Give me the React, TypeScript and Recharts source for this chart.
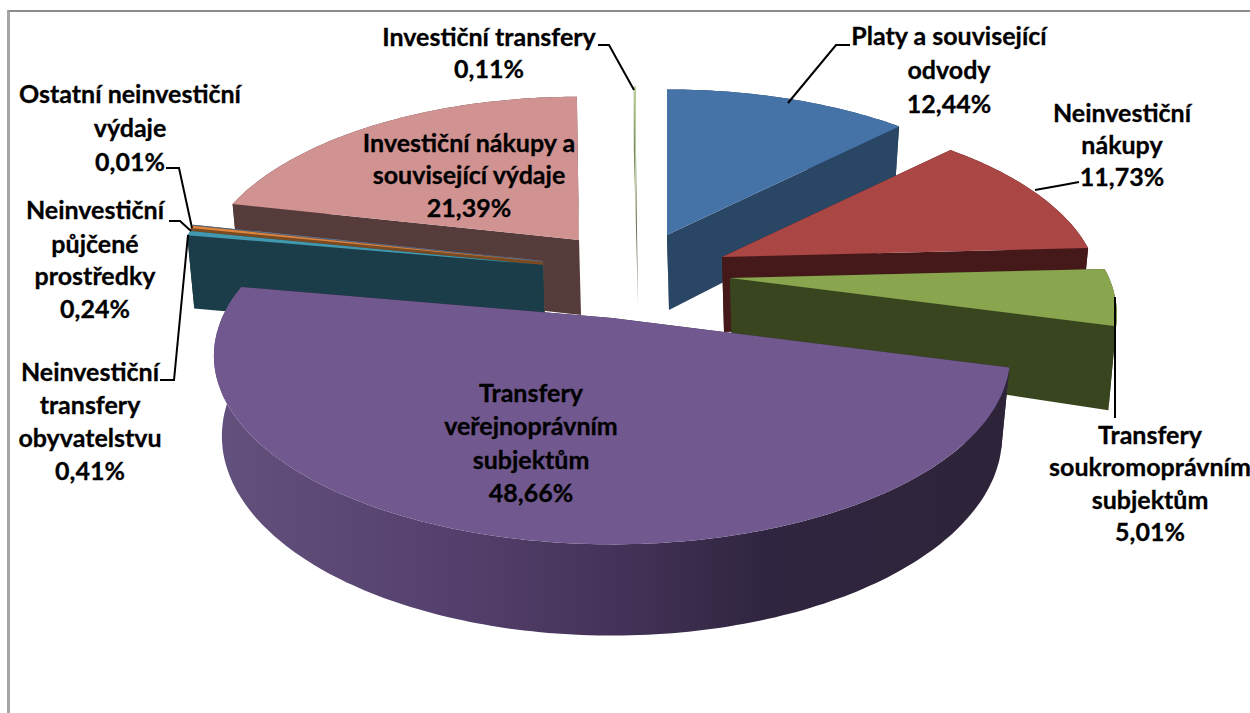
import { PieChart, Pie } from "recharts";

const sliceNames = [
  "Platy a související odvody",
  "Neinvestiční nákupy",
  "Transfery soukromoprávním subjektům",
  "Transfery veřejnoprávním subjektům",
  "Neinvestiční transfery obyvatelstvu",
  "Neinvestiční půjčené prostředky",
  "Ostatní neinvestiční výdaje",
  "Investiční nákupy a související výdaje",
  "Investiční transfery",
];
const sliceValues = [12.44, 11.73, 5.01, 48.66, 0.41, 0.24, 0.01, 21.39, 0.11];
const percentLabels = ["12,44%", "11,73%", "5,01%", "48,66%", "0,41%", "0,24%", "0,01%", "21,39%", "0,11%"];

const topColors = ["#4572a7", "#aa4643", "#89a54e", "#71588f", "#4198af", "#db843d", "#93a9cf", "#d19392", "#b9cd96"];
const wallColors = ["#2a4665", "#45191a", "#39451f", "url(#purpleRim)", "#1b3d49", "#7a4a22", "#55627a", "#563b3b", "#6a7656"];

// how far each slice is pulled out of the pie, how much it shrinks with distance, wall height factor
const explode: [number, number, number, number][] = [
  [55, -83, 0.96, 1],
  [110, -61, 0.945, 1],
  [118, -40, 0.967, 1.08],
  [0, 0, 0.995, 1.04],
  [-69, -53, 0.955, 1],
  [-69, -56, 0.955, 1],
  [-69, -57, 0.955, 1],
  [-33, -78, 0.945, 1],
  [24, -88, 0.945, 1],
];

// back to front
const paintOrder = [8, 0, 1, 2, 7, 6, 5, 4, 3];

const labelLayout = [
  { x: 949, ys: [39, 73, 107], lines: ["Platy a související", "odvody"], leader: "850,45 836,45 788,103" },
  { x: 1122, ys: [116, 148, 180], lines: ["Neinvestiční", "nákupy"], leader: "1079,182 1063,185 1035,190" },
  { x: 1150, ys: [438, 470, 503, 535], lines: ["Transfery", "soukromoprávním", "subjektům"], leader: "1115,297 1115,418" },
  { x: 531, ys: [396, 429, 463, 496], lines: ["Transfery", "veřejnoprávním", "subjektům"] },
  { x: 90, ys: [375, 408, 441, 474], lines: ["Neinvestiční", "transfery", "obyvatelstvu"], leader: "160,380 174,380 188,235" },
  { x: 95, ys: [213, 247, 279, 312], lines: ["Neinvestiční", "půjčené", "prostředky"], leader: "169,221 180,221 191,231" },
  { x: 130, ys: [97, 131, 165], lines: ["Ostatní neinvestiční", "výdaje"], leader: "166,168 179,168 192,228" },
  { x: 469, ys: [146, 178, 211], lines: ["Investiční nákupy a", "související výdaje"] },
  { x: 489, ys: [40, 72], lines: ["Investiční transfery"], leader: "598,45 609,45 634,90" },
];

const chartData = sliceNames.map((name, i) => ({ name, value: sliceValues[i], idx: i }));

const CX = 612;
const CY = 318;
const RX = 392;
const RY = 182;
const TILT = 0.2;
const DEPTH = 75;

function toPath(pts: number[][]) {
  return "M" + pts.map((p) => p[0].toFixed(1) + "," + p[1].toFixed(1)).join("L") + "Z";
}

function SliceShape(props: any) {
  const { startAngle, endAngle, payload, layer } = props;
  const i = payload?.idx ?? props.idx;
  if (i !== layer) return null;
  const [dx, dy, s, h] = explode[i];
  const ox = CX + dx;
  const oy = CY + dy;
  const a0 = 90 - startAngle;
  const a1 = 90 - endAngle;
  const steps = Math.max(2, Math.ceil(Math.abs(a1 - a0)));
  const top: number[][] = [];
  const low: number[][] = [];
  for (let k = 0; k <= steps; k++) {
    const a = ((a0 + ((a1 - a0) * k) / steps) * Math.PI) / 180;
    const u = Math.sin(a);
    const v = Math.cos(a);
    const p = 1 / (1 + TILT * v);
    const x = ox + RX * s * u * p;
    const y = oy - RY * s * v * p;
    top.push([x, y]);
    low.push([ox + (x - ox) * 0.98, y + DEPTH * h * Math.pow(p, 0.7)]);
  }
  const apexLow = [ox + 2, oy + DEPTH];
  const wall = wallColors[i];
  const solid = i === 3 ? "#2e2439" : wall;
  return (
    <g>
      <path d={toPath([[ox, oy], apexLow, low[0], top[0]])} fill={solid} />
      <path d={toPath([[ox, oy], apexLow, low[steps], top[steps]])} fill={solid} />
      <path d={toPath([...top, ...low.slice().reverse()])} fill={wall} />
      <path d={toPath([[ox, oy], ...top])} fill={topColors[i]} />
    </g>
  );
}

function SliceLabel(props: any) {
  const i = props.payload?.idx ?? props.index;
  const l = labelLayout[i];
  const rows = [...l.lines, percentLabels[i]];
  return (
    <g>
      {l.leader && <polyline points={l.leader} fill="none" stroke="#000" strokeWidth={2} />}
      {rows.map((t, k) => (
        <text
          key={k}
          x={l.x}
          y={l.ys[k]}
          textAnchor="middle"
          dominantBaseline="middle"
          fontFamily="Lato, sans-serif"
          fontWeight={700}
          fontSize={25}
          stroke="#000"
          strokeWidth={0.3}
          fill="#000"
        >
          {t}
        </text>
      ))}
    </g>
  );
}

export default function App() {
  return (
    <div style={{ position: "fixed", left: 0, top: 0, width: 1250, height: 713, background: "#fff", overflow: "hidden" }}>
      <div style={{ position: "absolute", left: 7, top: 10, width: 1300, height: 800, borderLeft: "3px solid #a6a6a6", borderTop: "2px solid #8c8c8c", boxSizing: "border-box" }} />
      <div style={{ position: "absolute", left: 0, top: 0 }}>
        <PieChart width={1250} height={713} margin={{ top: 0, right: 0, bottom: 0, left: 0 }}>
          <defs>
            <linearGradient id="purpleRim" gradientUnits="userSpaceOnUse" x1={215} y1={0} x2={1005} y2={0}>
              <stop offset="0" stopColor="#63517d" />
              <stop offset="0.3" stopColor="#55406d" />
              <stop offset="0.52" stopColor="#433257" />
              <stop offset="0.7" stopColor="#2f2540" />
              <stop offset="1" stopColor="#2e2439" />
            </linearGradient>
          </defs>
          {paintOrder.map((layer, n) => (
            <Pie
              key={layer}
              data={chartData}
              dataKey="value"
              nameKey="name"
              cx={CX}
              cy={CY}
              outerRadius={RX}
              startAngle={90}
              endAngle={-270}
              stroke="none"
              isAnimationActive={false}
              shape={(p: any) => <SliceShape {...p} layer={layer} />}
              labelLine={false}
              label={n === paintOrder.length - 1 ? (p: any) => <SliceLabel {...p} /> : false}
            />
          ))}
        </PieChart>
      </div>
    </div>
  );
}
